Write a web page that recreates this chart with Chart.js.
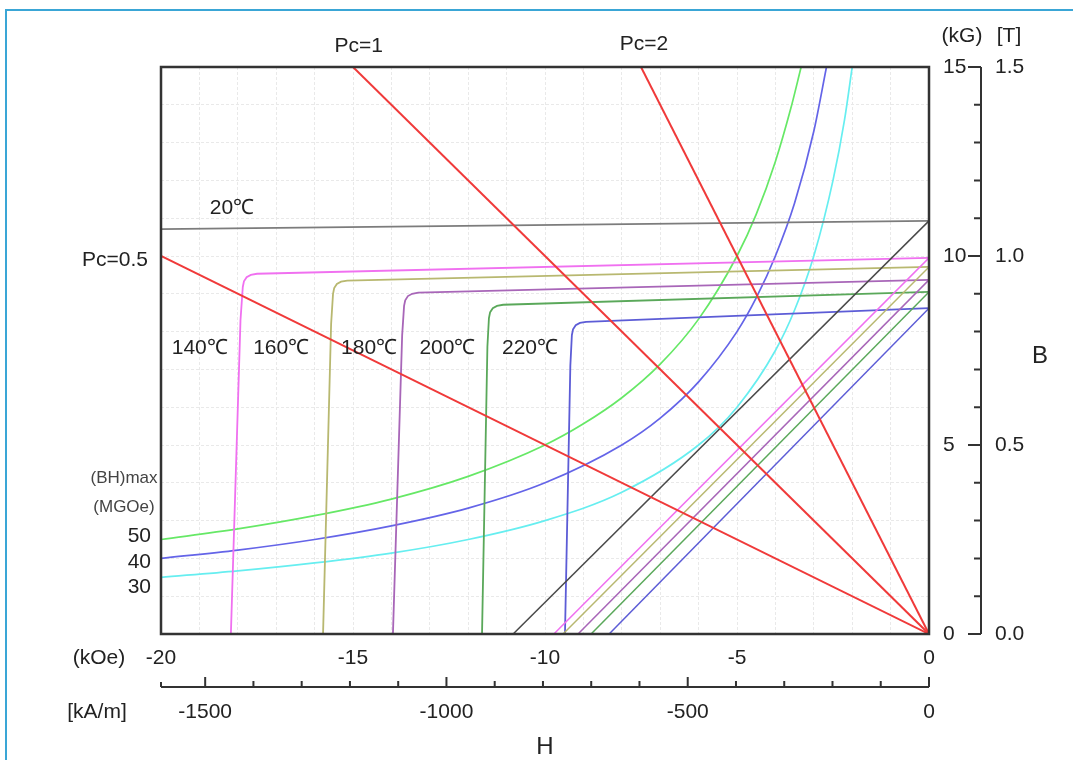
<!DOCTYPE html>
<html>
<head>
<meta charset="utf-8">
<script src="https://cdn.jsdelivr.net/npm/chart.js@4.4.1/dist/chart.umd.min.js"></script>
<style>
  html, body { margin: 0; padding: 0; background: #fff; }
  #wrap { position: relative; width: 1073px; height: 760px; overflow: hidden; }
  #bh { position: absolute; left: 0; top: 0; }
  #edge { position: absolute; left: 5px; top: 9px; width: 1200px; height: 900px;
          border-top: 2px solid #3aa6d6; border-left: 2px solid #3aa6d6; }
</style>
</head>
<body>
<div id="wrap">
  <canvas id="bh" width="1073" height="760"></canvas>
  <div id="edge"></div>
</div>
<script>
// H in kOe, B in kG

// permeance lines
const pc05H = [-20, 0],  pc05B = [10, 0];
const pc1H  = [-15, 0],  pc1B  = [15, 0];
const pc2H  = [-7.5, 0], pc2B  = [15, 0];

// 20℃
const t20iH = [-20, 0],     t20iB = [10.71, 10.93];
const t20nH = [-10.83, 0],  t20nB = [0, 10.93];

// intrinsic curves
const t140H = [0, -17.50, -17.66, -17.77, -17.84, -17.87, -17.93, -18.18];
const t140B = [9.95, 9.53, 9.50, 9.44, 9.33, 9.18, 8.30, 0];
const t160H = [0, -15.15, -15.31, -15.42, -15.49, -15.52, -15.57, -15.78];
const t160B = [9.71, 9.35, 9.32, 9.26, 9.15, 9.00, 8.20, 0];
const t180H = [0, -13.30, -13.46, -13.57, -13.64, -13.67, -13.72, -13.96];
const t180B = [9.37, 9.03, 9.00, 8.94, 8.83, 8.68, 7.90, 0];
const t200H = [0, -11.09, -11.25, -11.36, -11.43, -11.46, -11.50, -11.64];
const t200B = [9.05, 8.71, 8.68, 8.62, 8.51, 8.36, 7.60, 0];
const t220H = [0, -8.93, -9.09, -9.20, -9.27, -9.30, -9.34, -9.48];
const t220B = [8.62, 8.26, 8.23, 8.17, 8.06, 7.91, 7.10, 0];

// normal curves
const n140H = [-9.77, 0], n140B = [0, 9.95];
const n160H = [-9.53, 0], n160B = [0, 9.71];
const n180H = [-9.14, 0], n180B = [0, 9.37];
const n200H = [-8.80, 0], n200B = [0, 9.05];
const n220H = [-8.33, 0], n220B = [0, 8.62];

// (BH)max contours
const bh50H = [-20, -18, -16, -14, -12, -10, -9, -8, -7, -6, -5, -4.5, -4, -3.6, -3.33];
const bh50B = [2.5, 2.78, 3.13, 3.57, 4.17, 5.0, 5.56, 6.25, 7.14, 8.33, 10.0, 11.1, 12.5, 13.9, 15.0];
const bh40H = [-20, -18, -16, -14, -12, -10, -8, -7, -6, -5, -4.5, -4, -3.5, -3, -2.67];
const bh40B = [2.0, 2.22, 2.5, 2.86, 3.33, 4.0, 5.0, 5.71, 6.67, 8.0, 8.89, 10.0, 11.4, 13.3, 15.0];
const bh30H = [-20, -18, -16, -14, -12, -10, -8, -6, -5, -4, -3.5, -3, -2.5, -2.2, -2];
const bh30B = [1.5, 1.67, 1.88, 2.14, 2.5, 3.0, 3.75, 5.0, 6.0, 7.5, 8.57, 10.0, 12.0, 13.6, 15.0];

// axis labels
const kOeTicks = [-20, -15, -10, -5, 0];
const kGTicks = [0, 5, 10, 15];
const teslaTicks = ['0.0', '0.5', '1.0', '1.5'];
const kAmTicks = [-1500, -1000, -500, 0];
const bhLabels = ['50', '40', '30'];
const tempNames = ['140℃', '160℃', '180℃', '200℃', '220℃'];

const KOE_PER_KAM = 4 * Math.PI / 1000;

const pts = (hs, bs) => hs.map((h, i) => ({ x: h, y: bs[i] }));

const RED = '#f03a3a';
// [H, B, colour, width, smooth]
const series = [
  [pc05H, pc05B, RED, 2],
  [pc1H, pc1B, RED, 2],
  [pc2H, pc2B, RED, 2],
  [t20nH, t20nB, '#4a4a4a', 1.5],
  [t20iH, t20iB, '#7c7c7c', 1.8],
  [n140H, n140B, '#f070f0', 1.5],
  [n160H, n160B, '#b8b870', 1.5],
  [n180H, n180B, '#a866b8', 1.5],
  [n200H, n200B, '#5aa85a', 1.5],
  [n220H, n220B, '#5c5cd6', 1.5],
  [t140H, t140B, '#f070f0', 1.8],
  [t160H, t160B, '#b8b870', 1.8],
  [t180H, t180B, '#a866b8', 1.8],
  [t200H, t200B, '#5aa85a', 1.8],
  [t220H, t220B, '#5c5cd6', 1.8],
  [bh50H, bh50B, '#66e866', 1.7, true],
  [bh40H, bh40B, '#6464e8', 1.7, true],
  [bh30H, bh30B, '#66eef0', 1.7, true]
];

const FONT = '"Liberation Sans", Arial, sans-serif';

const overlay = {
  id: 'overlay',
  beforeDraw(c) {
    const ctx = c.ctx;
    ctx.save();
    ctx.fillStyle = '#fff';
    ctx.fillRect(0, 0, c.width, c.height);
    ctx.restore();
  },
  afterDraw(c) {
    const { ctx, chartArea: a, scales: { x, y } } = c;
    ctx.save();
    ctx.strokeStyle = '#333';
    ctx.lineWidth = 2.5;
    ctx.strokeRect(a.left, a.top, a.right - a.left, a.bottom - a.top);

    // tesla axis
    const tx = 981;
    ctx.lineWidth = 2;
    ctx.beginPath();
    ctx.moveTo(tx, y.getPixelForValue(15));
    ctx.lineTo(tx, y.getPixelForValue(0));
    for (let k = 0; k <= 15; k++) {
      const py = y.getPixelForValue(k);
      const len = k % 5 === 0 ? 13 : 7;
      ctx.moveTo(tx - len, py);
      ctx.lineTo(tx, py);
    }
    ctx.stroke();

    // kA/m axis
    const ay = 687;
    ctx.beginPath();
    ctx.moveTo(a.left, ay);
    ctx.lineTo(a.right, ay);
    ctx.moveTo(a.left, ay);
    ctx.lineTo(a.left, ay - 5);
    for (let v = -1500; v <= 0; v += 100) {
      const px = x.getPixelForValue(v * KOE_PER_KAM);
      const len = v % 500 === 0 ? 10 : 6;
      ctx.moveTo(px, ay);
      ctx.lineTo(px, ay - len);
    }
    ctx.stroke();

    ctx.fillStyle = '#222';
    ctx.textAlign = 'center';
    ctx.textBaseline = 'middle';
    ctx.font = '21px ' + FONT;
    kAmTicks.forEach(v => ctx.fillText(String(v), x.getPixelForValue(v * KOE_PER_KAM), 712));
    ctx.fillText('(kOe)', 99, 658);
    ctx.fillText('[kA/m]', 97, 712);
    ctx.fillText('(kG)', 962, 36);
    ctx.fillText('[T]', 1009, 36);

    ctx.textAlign = 'left';
    kGTicks.forEach(v => ctx.fillText(String(v), 943, y.getPixelForValue(v)));
    teslaTicks.forEach((t, i) => ctx.fillText(t, 995, y.getPixelForValue(kGTicks[i])));

    ctx.textAlign = 'center';
    ctx.fillText('Pc=1', x.getPixelForValue(-14.85), 46);
    ctx.fillText('Pc=2', x.getPixelForValue(-7.42), 44);
    ctx.fillText('Pc=0.5', 115, y.getPixelForValue(9.9));
    ctx.fillText('20℃', x.getPixelForValue(-18.15), y.getPixelForValue(11.27));
    const tempAt = [-18.99, -16.87, -14.58, -12.54, -10.39];
    tempNames.forEach((t, i) => ctx.fillText(t, x.getPixelForValue(tempAt[i]), y.getPixelForValue(7.57)));

    ctx.textAlign = 'right';
    [536, 562, 587].forEach((py, i) => ctx.fillText(bhLabels[i], 151, py));

    ctx.textAlign = 'center';
    ctx.fillStyle = '#444';
    ctx.font = '17px ' + FONT;
    ctx.fillText('(BH)max', 124, 478);
    ctx.fillText('(MGOe)', 124, 507);

    ctx.fillStyle = '#222';
    ctx.font = '24px ' + FONT;
    ctx.fillText('H', 545, 747);
    ctx.fillText('B', 1040, 356);
    ctx.restore();
  }
};

const gridOpts = { color: '#e9e9e9', lineWidth: 1, drawTicks: false };

new Chart(document.getElementById('bh'), {
  type: 'scatter',
  data: {
    datasets: series.map(([hs, bs, col, w, smooth]) => ({
      data: pts(hs, bs),
      showLine: true,
      borderColor: col,
      borderWidth: w,
      pointRadius: 0,
      tension: smooth ? 0.4 : 0,
      cubicInterpolationMode: smooth ? 'monotone' : 'default',
      fill: false
    }))
  },
  options: {
    responsive: false,
    animation: false,
    devicePixelRatio: 1,
    layout: { padding: { left: 161, right: 144, top: 67, bottom: 92 } },
    plugins: { legend: { display: false }, tooltip: { enabled: false } },
    scales: {
      x: {
        type: 'linear', min: -20, max: 0,
        grid: gridOpts,
        border: { display: false, dash: [3, 2] },
        ticks: {
          stepSize: 1, autoSkip: false, maxRotation: 0, padding: 12,
          color: '#222', font: { size: 21, family: FONT },
          callback: v => kOeTicks.includes(v) ? String(v) : ''
        },
        afterFit: s => { s.height = 34; }
      },
      y: {
        type: 'linear', min: 0, max: 15,
        grid: gridOpts,
        border: { display: false, dash: [3, 2] },
        ticks: { stepSize: 1, display: false },
        afterFit: s => { s.width = 0; }
      }
    }
  },
  plugins: [overlay]
});
</script>
</body>
</html>
